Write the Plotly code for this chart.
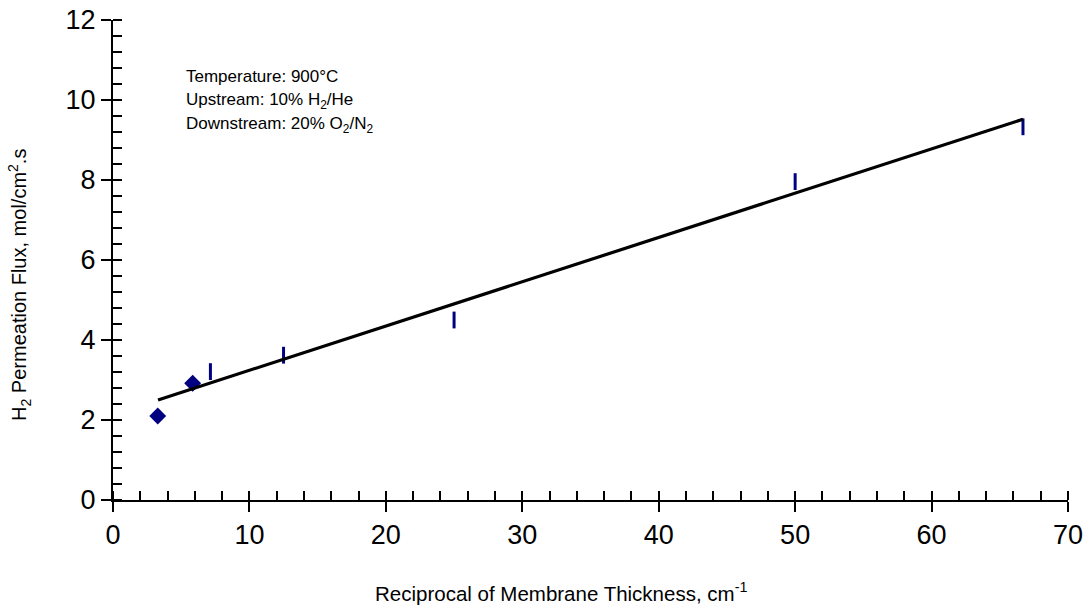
import plotly.graph_objects as go

# data
diamond_x = [3.28, 5.84]
diamond_y = [2.10, 2.92]
dash_x = [7.14, 12.5, 25.0, 50.0, 66.7]
dash_y = [3.21, 3.62, 4.50, 7.96, 9.33]
trend_x = [3.3, 66.7]
trend_y = [2.50, 9.52]

x_range = [0, 70]
y_range = [0, 12]

note_lines = [
    "Temperature: 900°C",
    "Upstream: 10% H<sub>2</sub>/He",
    "Downstream: 20% O<sub>2</sub>/N<sub>2</sub>",
]
note_x = 5.2
note_y = [10.58, 9.98, 9.38]

x_title = "Reciprocal of Membrane Thickness, cm<sup>-1</sup>"
y_title = "H<sub>2</sub> Permeation Flux, mol/cm<sup>2</sup>.s"

FONT = "Liberation Sans, Arial, sans-serif"
NAVY = "#000080"

fig = go.Figure()
fig.add_trace(go.Scatter(x=trend_x, y=trend_y, mode="lines",
                         line=dict(color="black", width=3.2),
                         xaxis="x2", yaxis="y2", showlegend=False, hoverinfo="skip"))
fig.add_trace(go.Scatter(x=diamond_x, y=diamond_y, mode="markers",
                         marker=dict(symbol="diamond", size=13, color=NAVY,
                                     line=dict(width=0)),
                         showlegend=False))
fig.add_trace(go.Scatter(x=dash_x, y=dash_y, mode="markers",
                         marker=dict(symbol="line-ns", size=12, color=NAVY,
                                     line=dict(width=3, color=NAVY)),
                         showlegend=False))

for txt, yy in zip(note_lines, note_y):
    fig.add_annotation(x=note_x, y=yy, xref="x", yref="y", text=txt,
                       showarrow=False, xanchor="left", yanchor="middle",
                       font=dict(family=FONT, size=17, color="black"))

fig.add_annotation(x=0.469, y=-0.192, xref="paper", yref="paper", text=x_title,
                   showarrow=False, xanchor="center", yanchor="middle",
                   font=dict(family=FONT, size=20.5, color="black"))
fig.add_annotation(x=-0.0974, y=0.448, xref="paper", yref="paper", text=y_title,
                   showarrow=False, xanchor="center", yanchor="middle", textangle=-90,
                   font=dict(family=FONT, size=20, color="black"))

tickfont = dict(family=FONT, size=27, color="black")
fig.update_layout(
    width=1087, height=611,
    margin=dict(l=113, r=19, t=20, b=111, autoexpand=False),
    paper_bgcolor="white", plot_bgcolor="white",
    showlegend=False,
    xaxis=dict(range=x_range, dtick=10, tick0=0, showgrid=False, zeroline=False,
               automargin=False, ticklabeloverflow="allow",
               showline=True, linecolor="black", linewidth=2,
               ticks="outside", ticklen=10, tickwidth=2, tickcolor="black",
               minor=dict(ticks="inside", dtick=2, tick0=0, ticklen=9, tickwidth=2,
                          tickcolor="black", showgrid=False),
               tickfont=tickfont),
    yaxis=dict(range=y_range, dtick=2, tick0=0, showgrid=False, zeroline=False,
               automargin=False, ticklabeloverflow="allow",
               showline=True, linecolor="black", linewidth=2,
               ticks="outside", ticklen=10, tickwidth=2, tickcolor="black",
               minor=dict(ticks="inside", dtick=0.4, tick0=0, ticklen=9, tickwidth=2,
                          tickcolor="black", showgrid=False),
               tickfont=tickfont),
    xaxis2=dict(overlaying="x", matches="x", anchor="y2", side="bottom",
                automargin=False,
                range=x_range, dtick=10, tick0=0, showgrid=False, zeroline=False,
                showline=False, ticks="inside", ticklen=9, tickwidth=2,
                tickcolor="black", showticklabels=False),
    yaxis2=dict(overlaying="y", matches="y", anchor="x2", side="left",
                automargin=False,
                range=y_range, dtick=2, tick0=0, showgrid=False, zeroline=False,
                showline=False, ticks="inside", ticklen=9, tickwidth=2,
                tickcolor="black", showticklabels=False),
)

fig.write_html(
    "out.html",
    config={"displayModeBar": False},
    post_script="document.body.style.margin='0';document.body.style.overflow='hidden';",
)
